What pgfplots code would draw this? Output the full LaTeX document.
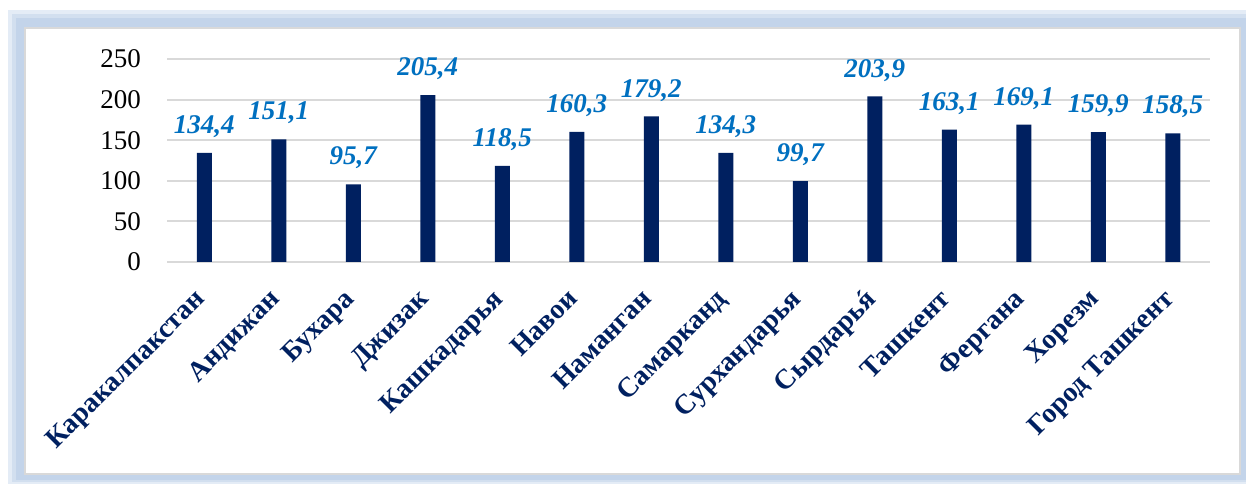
\documentclass[border=0pt]{standalone}
\usepackage{fontspec}
\setmainfont{Liberation Serif}
\usepackage{pgfplots}
\pgfplotsset{compat=1.18}
\definecolor{barblue}{HTML}{002060}
\definecolor{lblblue}{HTML}{0070C0}
\definecolor{gridgray}{HTML}{D9D9D9}
\definecolor{glow}{HTML}{C3D4EA}
\begin{document}
\fontsize{27}{32}\selectfont
\begin{tikzpicture}[x=1pt,y=1pt]
\useasboundingbox (0,0) rectangle (1246,484);
\fill[glow!45] (8,0) rectangle (1246,474);
\fill[glow!75] (12,2) rectangle (1246,470);
\fill[glow] (16,4) rectangle (1246,466);
\filldraw[fill=white, draw=gridgray, line width=2pt] (25,10) rectangle (1240,456);
\begin{axis}[
  at={(167pt,222pt)}, anchor=south west,
  scale only axis, width=1043pt, height=203pt,
  xmin=-0.5, xmax=13.5, ymin=0, ymax=250,
  ytick={0,50,...,250},
  xtick={0,...,13},
  xticklabels={Каракалпакстан,Андижан,Бухара,Джизак,Кашкадарья,Навои,Наманган,Самарканд,Сурхандарья,{Сырдарь\accent"00B4 я},Ташкент,Фергана,Хорезм,Город Ташкент},
  ymajorgrids, grid style={gridgray, line width=2pt},
  axis line style={draw=none},
  major tick length=0,
  ybar, bar width=15pt,
  /pgf/number format/assume math mode=true,
  tick label style={font=\fontsize{27}{32}\selectfont},
  yticklabel style={xshift=-17pt, text=black},
  xticklabel style={rotate=45, anchor=north east, font=\fontsize{28}{32}\selectfont\bfseries, text=barblue, xshift=-16.5pt, yshift=-1pt},
  nodes near coords={\textbf{\textit{\pgfmathprintnumber[use comma,fixed,fixed zerofill,precision=1]{\pgfplotspointmeta}}}},
  nodes near coords style={font=\fontsize{27}{32}\selectfont\bfseries\itshape, text=lblblue, yshift=6pt},
  clip=false,
]
\addplot[fill=barblue, draw=none] coordinates {
(0,134.4) (1,151.1) (2,95.7) (3,205.4) (4,118.5) (5,160.3) (6,179.2)
(7,134.3) (8,99.7) (9,203.9) (10,163.1) (11,169.1) (12,159.9) (13,158.5)};
\end{axis}
\end{tikzpicture}
\end{document}
